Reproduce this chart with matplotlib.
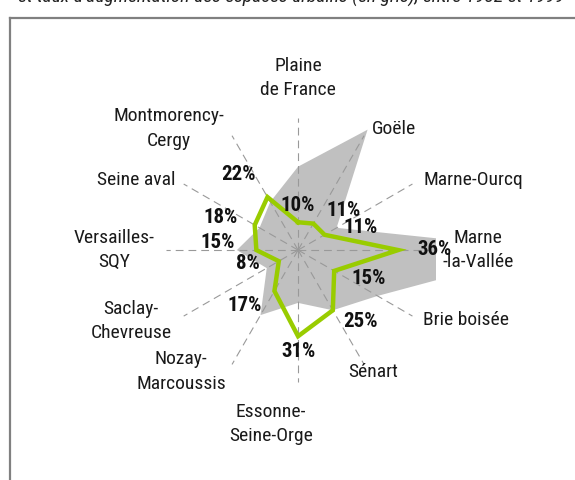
import numpy as np
import matplotlib
matplotlib.use('Agg')
import matplotlib.pyplot as plt
from matplotlib import font_manager
from matplotlib.patches import Polygon, Rectangle
from matplotlib.lines import Line2D

# police étroite si elle existe
noms = {f.name for f in font_manager.fontManager.ttflist}
etroites = [p for p in ['Liberation Sans Narrow', 'Roboto Condensed', 'DejaVu Sans Condensed'] if p in noms]
plt.rcParams['font.family'] = etroites + ['DejaVu Sans']
etroit = 'Liberation Sans Narrow' in etroites or 'Roboto Condensed' in etroites

# Secteurs (sens horaire depuis le nord)
secteurs = ['Plaine\nde France', 'Goële', 'Marne-Ourcq', 'Marne\n-la-Vallée', 'Brie boisée', 'Sénart',
            'Essonne-\nSeine-Orge', 'Nozay-\nMarcoussis', 'Saclay-\nChevreuse', 'Versailles-\nSQY',
            'Seine aval', 'Montmorency-\nCergy']
# Taux (%) : vert = trait, gris = espaces urbains
taux_vert = [10, 11, 11, 36, 15, 25, 31, 17, 8, 15, 18, 22]
taux_gris = [30, 50, 16, 90, 33, 25, 19, 27, 13, 22, 16, 20]
etiquettes = ['10%', '11%', '11%', '36%', '15%', '25%', '31%', '17%', '8%', '15%', '18%', '22%']

# mise en page des textes (unités du graphique)
pos_secteurs = [(0, 62.2, 'center'), (26.6, 43.9, 'left'), (45.0, 25.5, 'left'), (64.7, 0.4, 'center'),
                (45.0, -24.8, 'left'), (18.0, -43.5, 'left'), (-9.7, -62.2, 'center'),
                (-42.1, -43.3, 'center'), (-60.1, -25.2, 'center'), (-66.2, 0.4, 'center'),
                (-44.2, 25.5, 'right'), (-46.4, 44.1, 'center')]
pos_etiq = [(0, 16.5), (16.2, 14.7), (22.3, 8.6), (48.9, 0.4), (25.2, -9.7), (22.3, -25.5),
            (0, -36.3), (-19.1, -19.4), (-18.0, -4.3), (-28.8, 3.2), (-27.7, 11.9), (-21.6, 27.7)]

n = len(secteurs)
angles = np.pi / 2 - np.arange(n) * 2 * np.pi / n

def xy(vals):
    v = np.asarray(vals, dtype=float)
    return np.column_stack([v * np.cos(angles), v * np.sin(angles)])

fig = plt.figure(figsize=(5.75, 4.81), dpi=100)
ax = fig.add_axes([0, 0, 1, 1])
ax.set_xlim(-107.2, 99.6)
ax.set_ylim(-82.7, 90.3)
ax.axis('off')

# surface grise, coupée au cadre du graphique
gris = Polygon(xy(taux_gris), closed=True, facecolor='#c0c0c0', edgecolor='none', zorder=1)
ax.add_patch(gris)
gris.set_clip_path(Rectangle((-49.6, -49.6), 99.2, 99.2, transform=ax.transData))

# rayons en tirets
for a in angles:
    ax.plot([0, 47.5 * np.cos(a)], [0, 47.5 * np.sin(a)], color='#999999', lw=0.8,
            linestyle=(0, (7, 4.5)), zorder=2)

pts = xy(taux_vert)
pts = np.vstack([pts, pts[:1]])
ax.plot(pts[:, 0], pts[:, 1], color='#99cc00', lw=3.2, solid_joinstyle='miter', zorder=3)

fs = 14 if etroit else 12.5
for (x, y, ha), nom in zip(pos_secteurs, secteurs):
    ax.text(x, y, nom, ha=ha, va='center', fontsize=fs, color='#1a1a1a',
            linespacing=1.45 if etroit else 1.6, zorder=4)

for (x, y), t in zip(pos_etiq, etiquettes):
    ax.text(x, y, t, ha='center', va='center', fontsize=15 if etroit else 12.5, fontweight='bold',
            color='#111111', zorder=4)

# titre coupé en haut
fig.text(18 / 575, 1 - 3 / 481, "et taux d'augmentation des espaces urbains (en gris), entre 1982 et 1999",
         ha='left', va='baseline', fontsize=14 if etroit else 11.5, style='italic', color='#222222')

# cadre
fig.add_artist(Line2D([10 / 575, 10 / 575], [0, 1 - 19 / 481], color='#808080', lw=1.6))
fig.add_artist(Line2D([10 / 575, 1], [1 - 19 / 481, 1 - 19 / 481], color='#808080', lw=1.6))

fig.savefig('out.png', dpi=100)
